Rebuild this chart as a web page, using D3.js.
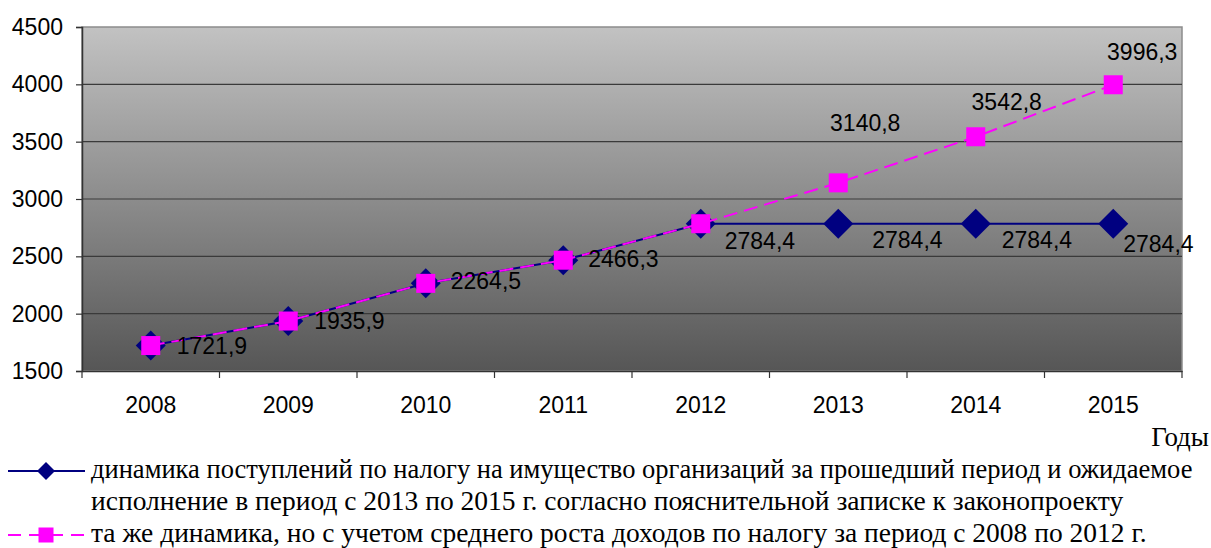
<!DOCTYPE html>
<html><head><meta charset="utf-8">
<script src="https://cdn.jsdelivr.net/npm/d3@7"></script>
<style>html,body{margin:0;padding:0;background:#fff;}svg{display:block;}</style>
</head><body>
<svg id="chart" width="1211" height="548"></svg>
<script>
const years = ["2008","2009","2010","2011","2012","2013","2014","2015"];
const actualValues = [1721.9, 1935.9, 2264.5, 2466.3, 2784.4, 2784.4, 2784.4, 2784.4];
const trendValues = [1721.9, 1935.9, 2264.5, 2466.3, 2784.4, 3140.8, 3542.8, 3996.3];
const yTicks = [1500, 2000, 2500, 3000, 3500, 4000, 4500];
const trendLabelYears = ["2013","2014","2015"];
const legendLines1 = ["динамика поступлений по налогу на имущество организаций за прошедший период и ожидаемое",
                      "исполнение в период с 2013 по 2015 г. согласно пояснительной записке к законопроекту"];
const legendLine2 = "та же динамика, но с учетом среднего роста доходов по налогу за период с 2008 по 2012 г.";
const xAxisTitle = "Годы";

// label offsets (layout, not data)
const actualLabelOffsets = [[26,0],[26,0],[25,-2],[25,-1],[24,17],[34,16],[26,16],[10,20]];
const trendLabelOffsets = {"2013":[27,-60],"2014":[31,-35],"2015":[29,-33]};

const svg = d3.select("#chart");
const m = {left:82, right:1182, top:27, bottom:371};
const x = d3.scaleBand().domain(years).range([m.left, m.right]).padding(0);
const y = d3.scaleLinear().domain([1500,4500]).range([m.bottom, m.top]);
const cx = d => x(d) + x.bandwidth()/2;
const fmt = v => v.toFixed(1).replace(".", ",");

const defs = svg.append("defs");
const grad = defs.append("linearGradient").attr("id","bg").attr("x1",0).attr("y1",0).attr("x2",0).attr("y2",1);
grad.append("stop").attr("offset","0%").attr("stop-color","#c2c2c2");
grad.append("stop").attr("offset","100%").attr("stop-color","#565656");

svg.append("rect").attr("x",m.left).attr("y",m.top).attr("width",m.right-m.left).attr("height",m.bottom-m.top)
  .attr("fill","url(#bg)").attr("stroke","#8c8c8c").attr("stroke-width",1.5);

// gridlines
svg.append("g").selectAll("line").data(yTicks.slice(1,-1)).join("line")
  .attr("x1",m.left).attr("x2",m.right).attr("y1",d=>y(d)).attr("y2",d=>y(d))
  .attr("stroke","#3a3a3a").attr("stroke-width",1.2);

// y axis
const yAxis = svg.append("g").attr("transform",`translate(${m.left},0)`)
  .call(d3.axisLeft(y).tickValues(yTicks).tickSize(6).tickPadding(13).tickFormat(d3.format("d")));
yAxis.select(".domain").attr("stroke","#333").attr("stroke-width",1.5);
yAxis.selectAll(".tick line").attr("stroke","#333").attr("stroke-width",1.2);
yAxis.selectAll("text").attr("font-family","Liberation Sans, Arial, sans-serif").attr("font-size",23).attr("fill","#000");

// x axis
const xAxis = svg.append("g").attr("transform",`translate(0,${m.bottom})`)
  .call(d3.axisBottom(x).tickSize(0).tickPadding(26));
xAxis.select(".domain").attr("stroke","#333").attr("stroke-width",1.5);
xAxis.selectAll("text").attr("font-family","Liberation Sans, Arial, sans-serif").attr("font-size",23).attr("fill","#000");
const bounds = years.map(d => x(d)).concat([m.right]);
xAxis.selectAll("line.bt").data(bounds).join("line").attr("class","bt")
  .attr("x1",d=>d).attr("x2",d=>d).attr("y1",0).attr("y2",7).attr("stroke","#333").attr("stroke-width",1.2);

// navy series
const line = d3.line().x((d,i)=>cx(years[i])).y(d=>y(d));
svg.append("path").datum(actualValues).attr("d",line).attr("fill","none").attr("stroke","#000080").attr("stroke-width",2);
const diamond = r => `M0,${-r}L${r},0L0,${r}L${-r},0Z`;
svg.append("g").selectAll("path").data(actualValues).join("path")
  .attr("transform",(d,i)=>`translate(${cx(years[i])},${y(d)})`).attr("d",diamond(15)).attr("fill","#000080");

// magenta series
svg.append("path").datum(trendValues).attr("d",line).attr("fill","none").attr("stroke","#ff00ff")
  .attr("stroke-width",2).attr("stroke-dasharray","14,7");
svg.append("g").selectAll("rect").data(trendValues).join("rect")
  .attr("x",(d,i)=>cx(years[i])-9.5).attr("y",d=>y(d)-9.5).attr("width",19).attr("height",19).attr("fill","#ff00ff");

// labels
const lbl = svg.append("g").attr("font-family","Liberation Sans, Arial, sans-serif").attr("font-size",23).attr("fill","#000");
lbl.selectAll("text.a").data(actualValues).join("text").attr("class","a")
  .attr("x",(d,i)=>cx(years[i])+actualLabelOffsets[i][0])
  .attr("y",(d,i)=>y(d)+actualLabelOffsets[i][1]+8)
  .text(d=>fmt(d));
lbl.selectAll("text.t").data(trendLabelYears).join("text").attr("class","t")
  .attr("text-anchor","middle")
  .attr("x",d=>cx(d)+trendLabelOffsets[d][0])
  .attr("y",d=>y(trendValues[years.indexOf(d)])+trendLabelOffsets[d][1]+8)
  .text(d=>fmt(trendValues[years.indexOf(d)]));

// axis title
svg.append("text").attr("x",1209).attr("y",446).attr("text-anchor","end")
  .attr("font-family","Liberation Serif, Times New Roman, serif").attr("font-size",27).text(xAxisTitle);

// legend
const lg = svg.append("g");
lg.append("line").attr("x1",8).attr("x2",85).attr("y1",471).attr("y2",471).attr("stroke","#000080").attr("stroke-width",2);
lg.append("path").attr("transform","translate(46,471)").attr("d",diamond(9)).attr("fill","#000080");
lg.append("line").attr("x1",8).attr("x2",85).attr("y1",535).attr("y2",535).attr("stroke","#ff00ff").attr("stroke-width",2).attr("stroke-dasharray","13,8");
lg.append("rect").attr("x",38.5).attr("y",527.5).attr("width",15).attr("height",15).attr("fill","#ff00ff");
const lt = lg.append("g").attr("font-family","Liberation Serif, Times New Roman, serif").attr("font-size",27.5).attr("fill","#000");
const l1 = lt.selectAll("text.l1").data(legendLines1).join("text").attr("class","l1")
  .attr("x",91).attr("y",(d,i)=>478+i*32).text(d=>d);
// first line sized so it spans to the right edge, as in the reference
const first = l1.filter((d,i)=>i===0);
const natural = first.node().getComputedTextLength();
const target = 1193 - 91;
first.attr("font-size", 27.5*target/natural);
lt.append("text").attr("x",91).attr("y",542).text(legendLine2);
</script>
</body></html>
